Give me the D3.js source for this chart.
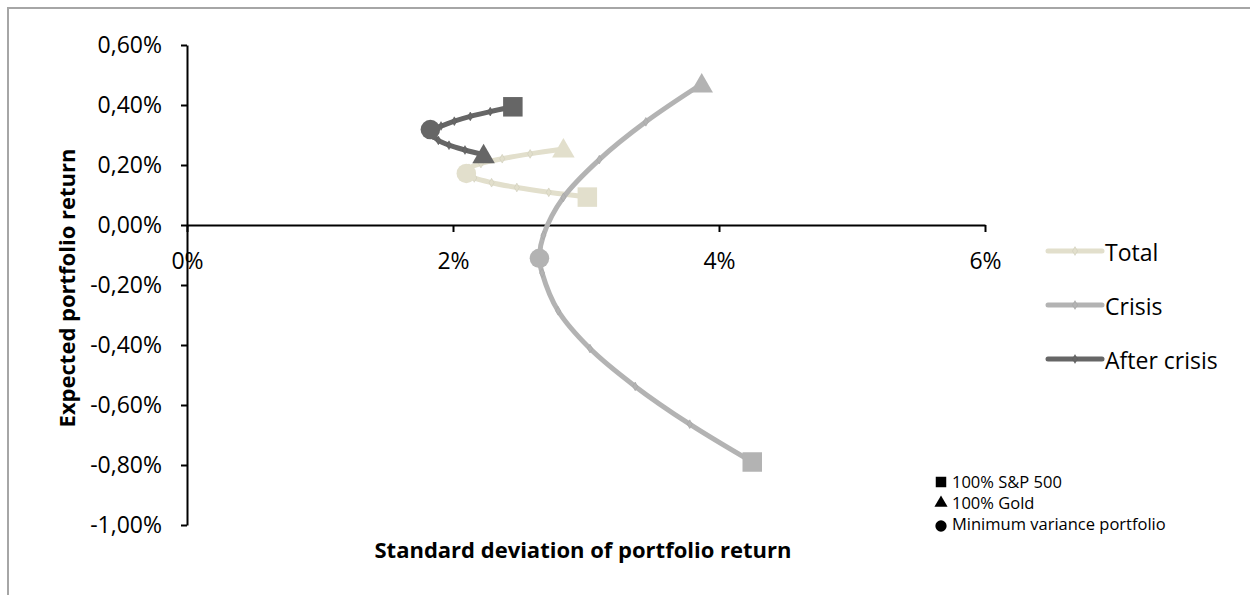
<!DOCTYPE html>
<html>
<head>
<meta charset="utf-8">
<script src="https://cdn.jsdelivr.net/npm/d3@7"></script>
<style>
  body { margin: 0; background: #fff; }
  svg text { font-family: "Open Sans", sans-serif; fill: #000; }
</style>
</head>
<body>
<div id="chart"></div>
<script>
// series names and colours
const seriesNames = ["Total", "Crisis", "After crisis"];
const seriesColors = ["#E2DFCC", "#B3B3B3", "#666666"];

// standard deviation (%) and expected return (%) from 100% S&P 500 to 100% Gold
const totalStd = [3.01, 2.72, 2.48, 2.29, 2.16, 2.11, 2.12, 2.21, 2.37, 2.58, 2.83];
const totalRet = [0.093, 0.109, 0.125, 0.141, 0.157, 0.173, 0.189, 0.205, 0.221, 0.237, 0.253];
const crisisStd = [4.25, 3.78, 3.37, 3.03, 2.79, 2.67, 2.68, 2.83, 3.10, 3.45, 3.87];
const crisisRet = [-0.790, -0.664, -0.538, -0.412, -0.286, -0.160, -0.034, 0.092, 0.218, 0.344, 0.470];
const afterStd = [2.45, 2.28, 2.13, 2.01, 1.91, 1.85, 1.85, 1.89, 1.97, 2.09, 2.23];
const afterRet = [0.394, 0.378, 0.362, 0.346, 0.330, 0.314, 0.298, 0.282, 0.266, 0.250, 0.234];

// minimum variance portfolios (Total, Crisis, After crisis)
const minVarStd = [2.10, 2.65, 1.83];
const minVarRet = [0.172, -0.111, 0.318];

// ticks
const xTicks = [0, 2, 4, 6];
const yTicks = [-1.0, -0.8, -0.6, -0.4, -0.2, 0.0, 0.2, 0.4, 0.6];

const symbolLabels = ["100% S&P 500", "100% Gold", "Minimum variance portfolio"];

let width = 1250, height = 595;

let svg = d3.select("#chart").append("svg")
    .attr("width", width)
    .attr("height", height);

// chart area border (left and top visible)
svg.append("rect")
    .attr("x", 8).attr("y", 8)
    .attr("width", width + 20).attr("height", height + 20)
    .attr("fill", "none")
    .attr("stroke", "#A6A6A6")
    .attr("stroke-width", 2);

let x = d3.scaleLinear().domain([0, 6]).range([187, 985]);
let y = d3.scaleLinear().domain([-1.0, 0.6]).range([525, 45]);

let locale = d3.formatLocale({decimal: ",", thousands: ".", grouping: [3], currency: ["", "€"], minus: "-"});
let yFmt = locale.format(".2f");

// y axis
let yAxis = svg.append("g")
    .attr("transform", `translate(${x(0)},0)`)
    .call(d3.axisLeft(y).tickValues(yTicks).tickSize(6).tickSizeOuter(0).tickPadding(19)
        .tickFormat(d => yFmt(d) + "%"));

// x axis
let xAxis = svg.append("g")
    .attr("transform", `translate(0,${y(0)})`)
    .call(d3.axisBottom(x).tickValues(xTicks).tickSize(7).tickSizeOuter(0).tickPadding(21)
        .tickFormat(d => d + "%"));

[xAxis, yAxis].forEach(a => {
    a.select(".domain").attr("stroke", "#000").attr("stroke-width", 2);
    a.selectAll(".tick line").attr("stroke", "#000").attr("stroke-width", 2);
    a.selectAll(".tick text").style("font-family", "Open Sans").style("font-size", "23px");
});

// axis titles
svg.append("text")
    .attr("x", 583).attr("y", 558)
    .attr("text-anchor", "middle")
    .style("font-size", "22px").style("font-weight", "bold")
    .text("Standard deviation of portfolio return");

svg.append("text")
    .attr("transform", "translate(75,288) rotate(-90)")
    .attr("text-anchor", "middle")
    .style("font-size", "22px").style("font-weight", "bold")
    .text("Expected portfolio return");

// build series
let seriesData = [
    {std: totalStd, ret: totalRet},
    {std: crisisStd, ret: crisisRet},
    {std: afterStd, ret: afterRet}
].map((s, i) => {
    let pts = s.std.map((v, j) => ({sd: v, r: s.ret[j]}));
    let all = pts.concat([{sd: minVarStd[i], r: minVarRet[i], min: true}])
        .sort((a, b) => a.r - b.r);
    return {name: seriesNames[i], color: seriesColors[i], pts: pts, all: all,
        sp: pts[0], gold: pts[pts.length - 1], minv: {sd: minVarStd[i], r: minVarRet[i]}};
});

let line = d3.line()
    .x(d => x(d.sd))
    .y(d => y(d.r))
    .curve(d3.curveCatmullRom.alpha(0.5));

let smallMarker = d3.symbol().type(d3.symbolDiamond).size(22);

seriesData.forEach(s => {
    let g = svg.append("g");
    g.append("path")
        .attr("d", line(s.all))
        .attr("fill", "none")
        .attr("stroke", s.color)
        .attr("stroke-width", 5)
        .attr("stroke-linejoin", "round");

    g.selectAll(".pt")
        .data(s.pts.slice(1, -1))
        .enter()
        .append("path")
        .attr("transform", d => `translate(${x(d.sd)},${y(d.r)})`)
        .attr("d", smallMarker)
        .attr("fill", s.color)
        .attr("stroke", d3.color(s.color).darker(0.25))
        .attr("stroke-width", 0.6);

    g.append("path")
        .attr("transform", `translate(${x(s.sp.sd)},${y(s.sp.r)})`)
        .attr("d", d3.symbol().type(d3.symbolSquare).size(380))
        .attr("fill", s.color);
    g.append("path")
        .attr("transform", `translate(${x(s.gold.sd)},${y(s.gold.r) + 2})`)
        .attr("d", d3.symbol().type(d3.symbolTriangle).size(220))
        .attr("fill", s.color);
    g.append("path")
        .attr("transform", `translate(${x(s.minv.sd)},${y(s.minv.r)})`)
        .attr("d", d3.symbol().type(d3.symbolCircle).size(300))
        .attr("fill", s.color);
});

// series legend
let legend = svg.append("g");
seriesData.forEach((s, i) => {
    let ly = 251 + i * 54;
    legend.append("line")
        .attr("x1", 1048).attr("x2", 1102)
        .attr("y1", ly).attr("y2", ly)
        .attr("stroke", s.color).attr("stroke-width", 5)
        .attr("stroke-linecap", "round");
    legend.append("path")
        .attr("transform", `translate(1075,${ly})`)
        .attr("d", smallMarker)
        .attr("fill", s.color)
        .attr("stroke", d3.color(s.color).darker(0.25))
        .attr("stroke-width", 0.6);
    legend.append("text")
        .attr("x", 1105).attr("y", ly + 2)
        .attr("dy", "0.35em")
        .style("font-size", "23px")
        .text(s.name);
});

// symbol legend
let symTypes = [d3.symbolSquare, d3.symbolTriangle, d3.symbolCircle];
let symSizes = [110, 75, 100];
symbolLabels.forEach((t, i) => {
    let ly = 482 + i * 21;
    svg.append("path")
        .attr("transform", `translate(941,${ly + (i === 2 ? 2 : 0)})`)
        .attr("d", d3.symbol().type(symTypes[i]).size(symSizes[i]))
        .attr("fill", "#000");
    svg.append("text")
        .attr("x", 952).attr("y", ly)
        .attr("dy", "0.35em")
        .style("font-size", "16.5px")
        .text(t);
});
</script>
</body>
</html>
